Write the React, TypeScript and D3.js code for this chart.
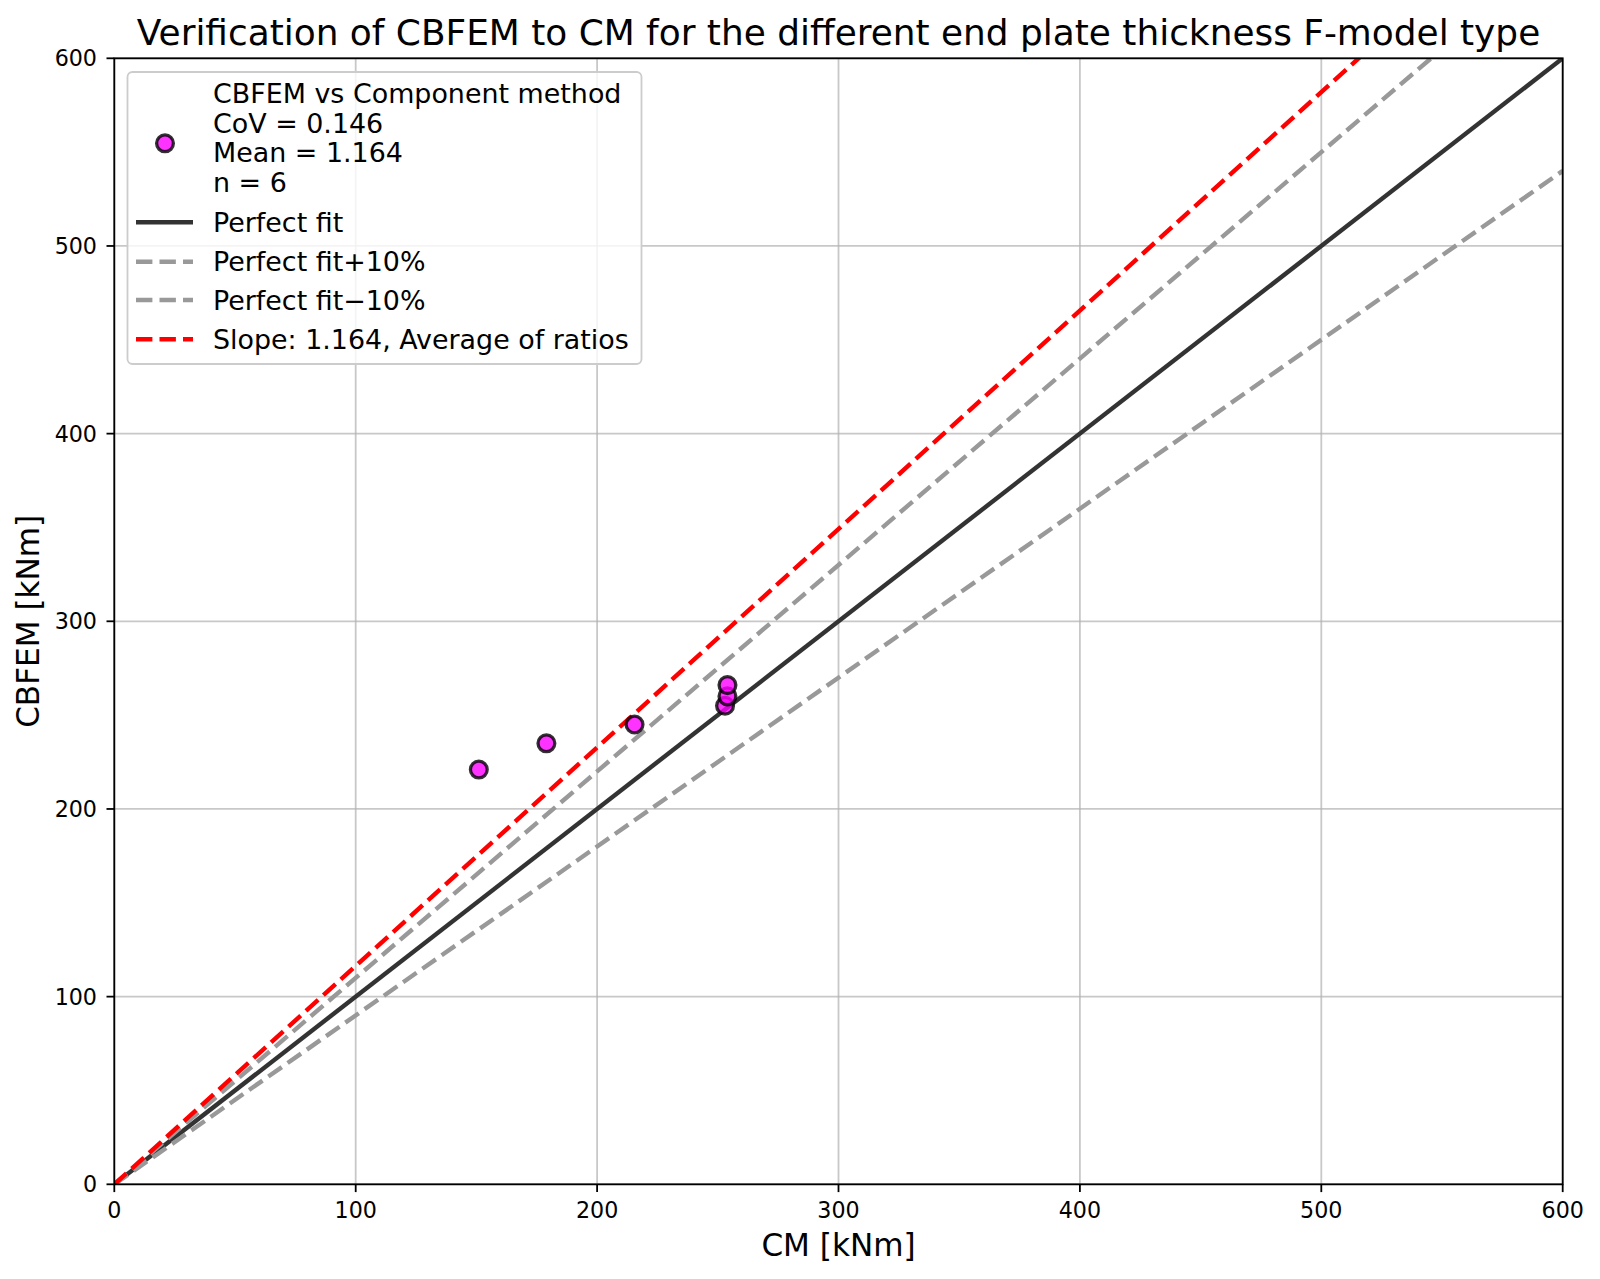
import { useEffect } from 'react';
import * as d3 from 'd3';

// CM resistance (x) vs CBFEM resistance (y), kNm
const cmValues = [151, 179, 215.5, 253, 254, 254];
const cbfemValues = [221, 235, 245, 255, 260, 266];

const xTicks = [0, 100, 200, 300, 400, 500, 600];
const yTicks = [0, 100, 200, 300, 400, 500, 600];

const slopes = [
  { key: 'fit', label: 'Perfect fit', k: 1.0, color: '#333333', dash: null as string | null },
  { key: 'plus', label: 'Perfect fit+10%', k: 1.1, color: '#999999', dash: '16.4 7.1' },
  { key: 'minus', label: 'Perfect fit\u221210%', k: 0.9, color: '#999999', dash: '16.4 7.1' },
  { key: 'avg', label: 'Slope: 1.164, Average of ratios', k: 1.164, color: '#ff0000', dash: '16.4 7.1' },
];

const statLines = ['CBFEM vs Component method', 'CoV = 0.146', 'Mean = 1.164', 'n = 6'];

const W = 1600;
const H = 1279;
const FONT = '"DejaVu Sans", sans-serif';

export default function App() {
  useEffect(() => {
    document.body.style.margin = '0';
  }, []);

  const left = 114.3;
  const right = 1562.7;
  const top = 58.3;
  const bottom = 1184.3;

  const x = d3.scaleLinear().domain([0, 600]).range([left, right]);
  const y = d3.scaleLinear().domain([0, 600]).range([bottom, top]);

  const line = d3.line<[number, number]>()
    .x(d => x(d[0]))
    .y(d => y(d[1]));

  const midX = (left + right) / 2;
  const midY = (top + bottom) / 2;

  // legend geometry
  const lgX = 127.5;
  const lgY = 72;
  const lgW = 514;
  const lgH = 292;
  const textX = 213;
  const statY = [93.3, 123, 152.7, 182.7];
  const entryY = [222.3, 261.7, 300, 339.3];

  return (
    <svg width={W} height={H} style={{ display: 'block', background: '#fff' }} fontFamily={FONT}>
      <defs>
        <clipPath id="plot-clip">
          <rect x={left} y={top} width={right - left} height={bottom - top} />
        </clipPath>
      </defs>

      {/* grid */}
      <g stroke="#b0b0b0" strokeOpacity={0.7} strokeWidth={1.8}>
        {xTicks.map(t => (
          <line key={'gx' + t} x1={x(t)} x2={x(t)} y1={top} y2={bottom} />
        ))}
        {yTicks.map(t => (
          <line key={'gy' + t} x1={left} x2={right} y1={y(t)} y2={y(t)} />
        ))}
      </g>

      {/* reference lines */}
      <g clipPath="url(#plot-clip)" fill="none">
        {slopes.map(s => (
          <path
            key={s.key}
            d={line([[0, 0], [600, 600 * s.k]]) || ''}
            stroke={s.color}
            strokeWidth={4.4}
            strokeDasharray={s.dash || undefined}
          />
        ))}
      </g>

      {/* points */}
      <g>
        {cmValues.map((v, i) => (
          <circle
            key={i}
            cx={x(v)}
            cy={y(cbfemValues[i])}
            r={8.4}
            fill="#ff00ff"
            fillOpacity={0.8}
            stroke="#000"
            strokeOpacity={0.8}
            strokeWidth={3.3}
          />
        ))}
      </g>

      {/* axes frame */}
      <rect x={left} y={top} width={right - left} height={bottom - top} fill="none" stroke="#000" strokeWidth={1.8} />

      {/* ticks */}
      <g fontSize={22.2} fill="#000">
        {xTicks.map(t => (
          <g key={'xt' + t}>
            <line x1={x(t)} x2={x(t)} y1={bottom} y2={bottom + 7.8} stroke="#000" strokeWidth={1.8} />
            <text x={x(t)} y={1218} textAnchor="middle">{t}</text>
          </g>
        ))}
        {yTicks.map(t => (
          <g key={'yt' + t}>
            <line x1={left - 7.8} x2={left} y1={y(t)} y2={y(t)} stroke="#000" strokeWidth={1.8} />
            <text x={97} y={y(t)} dy="0.36em" textAnchor="end">{t}</text>
          </g>
        ))}
      </g>

      {/* axis labels & title */}
      <text x={midX} y={1256} textAnchor="middle" fontSize={31.1}>CM [kNm]</text>
      <text transform={`translate(39,${midY}) rotate(-90)`} textAnchor="middle" fontSize={31.1}>CBFEM [kNm]</text>
      <text x={midX} y={45} textAnchor="middle" fontSize={35.9}>
        Verification of CBFEM to CM for the different end plate thickness F-model type
      </text>

      {/* legend */}
      <g fontSize={26.9}>
        <rect x={lgX} y={lgY} width={lgW} height={lgH} rx={5} fill="#fff" fillOpacity={0.8} stroke="#cccccc" strokeWidth={1.8} />
        <circle cx={165} cy={143.3} r={8.4} fill="#ff00ff" fillOpacity={0.8} stroke="#000" strokeOpacity={0.8} strokeWidth={3.3} />
        {statLines.map((s, i) => (
          <text key={s} x={textX} y={statY[i]} dy="0.36em">{s}</text>
        ))}
        {slopes.map((s, i) => (
          <g key={'lg' + s.key}>
            <line
              x1={136}
              x2={193}
              y1={entryY[i]}
              y2={entryY[i]}
              stroke={s.color}
              strokeWidth={4.4}
              strokeDasharray={s.dash || undefined}
            />
            <text x={textX} y={entryY[i]} dy="0.36em">{s.label}</text>
          </g>
        ))}
      </g>
    </svg>
  );
}
